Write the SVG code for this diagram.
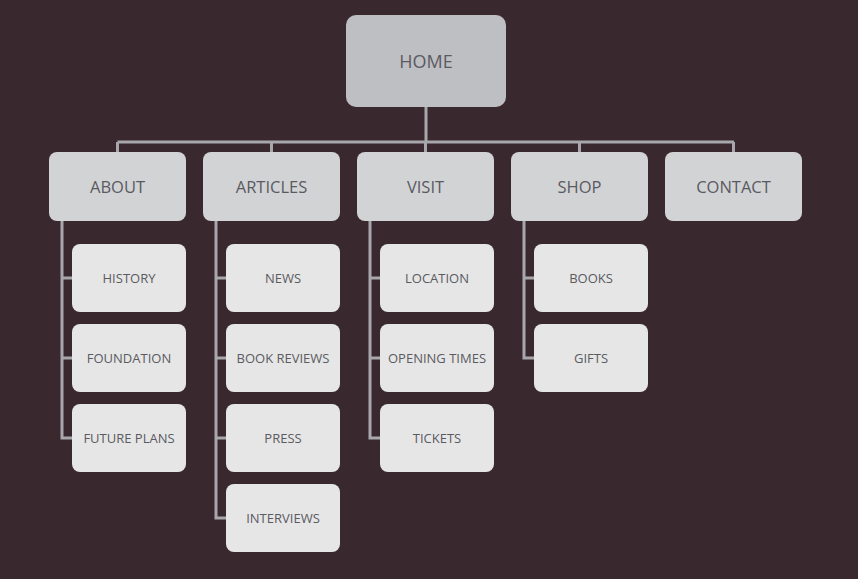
<svg xmlns="http://www.w3.org/2000/svg" width="858" height="579" viewBox="0 0 858 579">
<style>
.bg{fill:#3a282f}
.home{fill:#bebfc2}
.l1{fill:#d2d3d5}
.l2{fill:#e6e6e6}
text{font-family:"Open Sans","Liberation Sans",sans-serif;fill:#5a5a62;text-anchor:middle}
.t0{font-size:18px}
.t1{font-size:16.5px}
.t2{font-size:13px}
.ln{stroke:#a8a8ac;stroke-width:3;fill:none}
</style>
<rect class="bg" x="0" y="0" width="858" height="579"/>
<g id="connectors">
<path class="ln" d="M426 107V142M117.5 142H734M117.5 142V153M271.5 142V153M425.5 142V153M579.5 142V153M733.5 142V153"/>
<path class="ln" d="M62 221V438H72M62 278H72M62 358H72"/>
<path class="ln" d="M216 221V518H226M216 278H226M216 358H226M216 438H226"/>
<path class="ln" d="M370 221V438H380M370 278H380M370 358H380"/>
<path class="ln" d="M524 221V358H534M524 278H534"/>
</g>
<g id="home"><rect class="home" x="346" y="15" width="160" height="92" rx="10"/><text class="t0" x="426" y="68">HOME</text></g>
<g id="about"><rect class="l1" x="49" y="152" width="137" height="69" rx="8"/><text class="t1" x="117.5" y="193">ABOUT</text></g>
<g id="articles"><rect class="l1" x="203" y="152" width="137" height="69" rx="8"/><text class="t1" x="271.5" y="193">ARTICLES</text></g>
<g id="visit"><rect class="l1" x="357" y="152" width="137" height="69" rx="8"/><text class="t1" x="425.5" y="193">VISIT</text></g>
<g id="shop"><rect class="l1" x="511" y="152" width="137" height="69" rx="8"/><text class="t1" x="579.5" y="193">SHOP</text></g>
<g id="contact"><rect class="l1" x="665" y="152" width="137" height="69" rx="8"/><text class="t1" x="733.5" y="193">CONTACT</text></g>
<g id="history"><rect class="l2" x="72" y="244" width="114" height="68" rx="8"/><text class="t2" x="129" y="283">HISTORY</text></g>
<g id="foundation"><rect class="l2" x="72" y="324" width="114" height="68" rx="8"/><text class="t2" x="129" y="363">FOUNDATION</text></g>
<g id="futureplans"><rect class="l2" x="72" y="404" width="114" height="68" rx="8"/><text class="t2" x="129" y="443">FUTURE PLANS</text></g>
<g id="news"><rect class="l2" x="226" y="244" width="114" height="68" rx="8"/><text class="t2" x="283" y="283">NEWS</text></g>
<g id="bookreviews"><rect class="l2" x="226" y="324" width="114" height="68" rx="8"/><text class="t2" x="283" y="363">BOOK REVIEWS</text></g>
<g id="press"><rect class="l2" x="226" y="404" width="114" height="68" rx="8"/><text class="t2" x="283" y="443">PRESS</text></g>
<g id="interviews"><rect class="l2" x="226" y="484" width="114" height="68" rx="8"/><text class="t2" x="283" y="523">INTERVIEWS</text></g>
<g id="location"><rect class="l2" x="380" y="244" width="114" height="68" rx="8"/><text class="t2" x="437" y="283">LOCATION</text></g>
<g id="openingtimes"><rect class="l2" x="380" y="324" width="114" height="68" rx="8"/><text class="t2" x="437" y="363">OPENING TIMES</text></g>
<g id="tickets"><rect class="l2" x="380" y="404" width="114" height="68" rx="8"/><text class="t2" x="437" y="443">TICKETS</text></g>
<g id="books"><rect class="l2" x="534" y="244" width="114" height="68" rx="8"/><text class="t2" x="591" y="283">BOOKS</text></g>
<g id="gifts"><rect class="l2" x="534" y="324" width="114" height="68" rx="8"/><text class="t2" x="591" y="363">GIFTS</text></g>
</svg>
